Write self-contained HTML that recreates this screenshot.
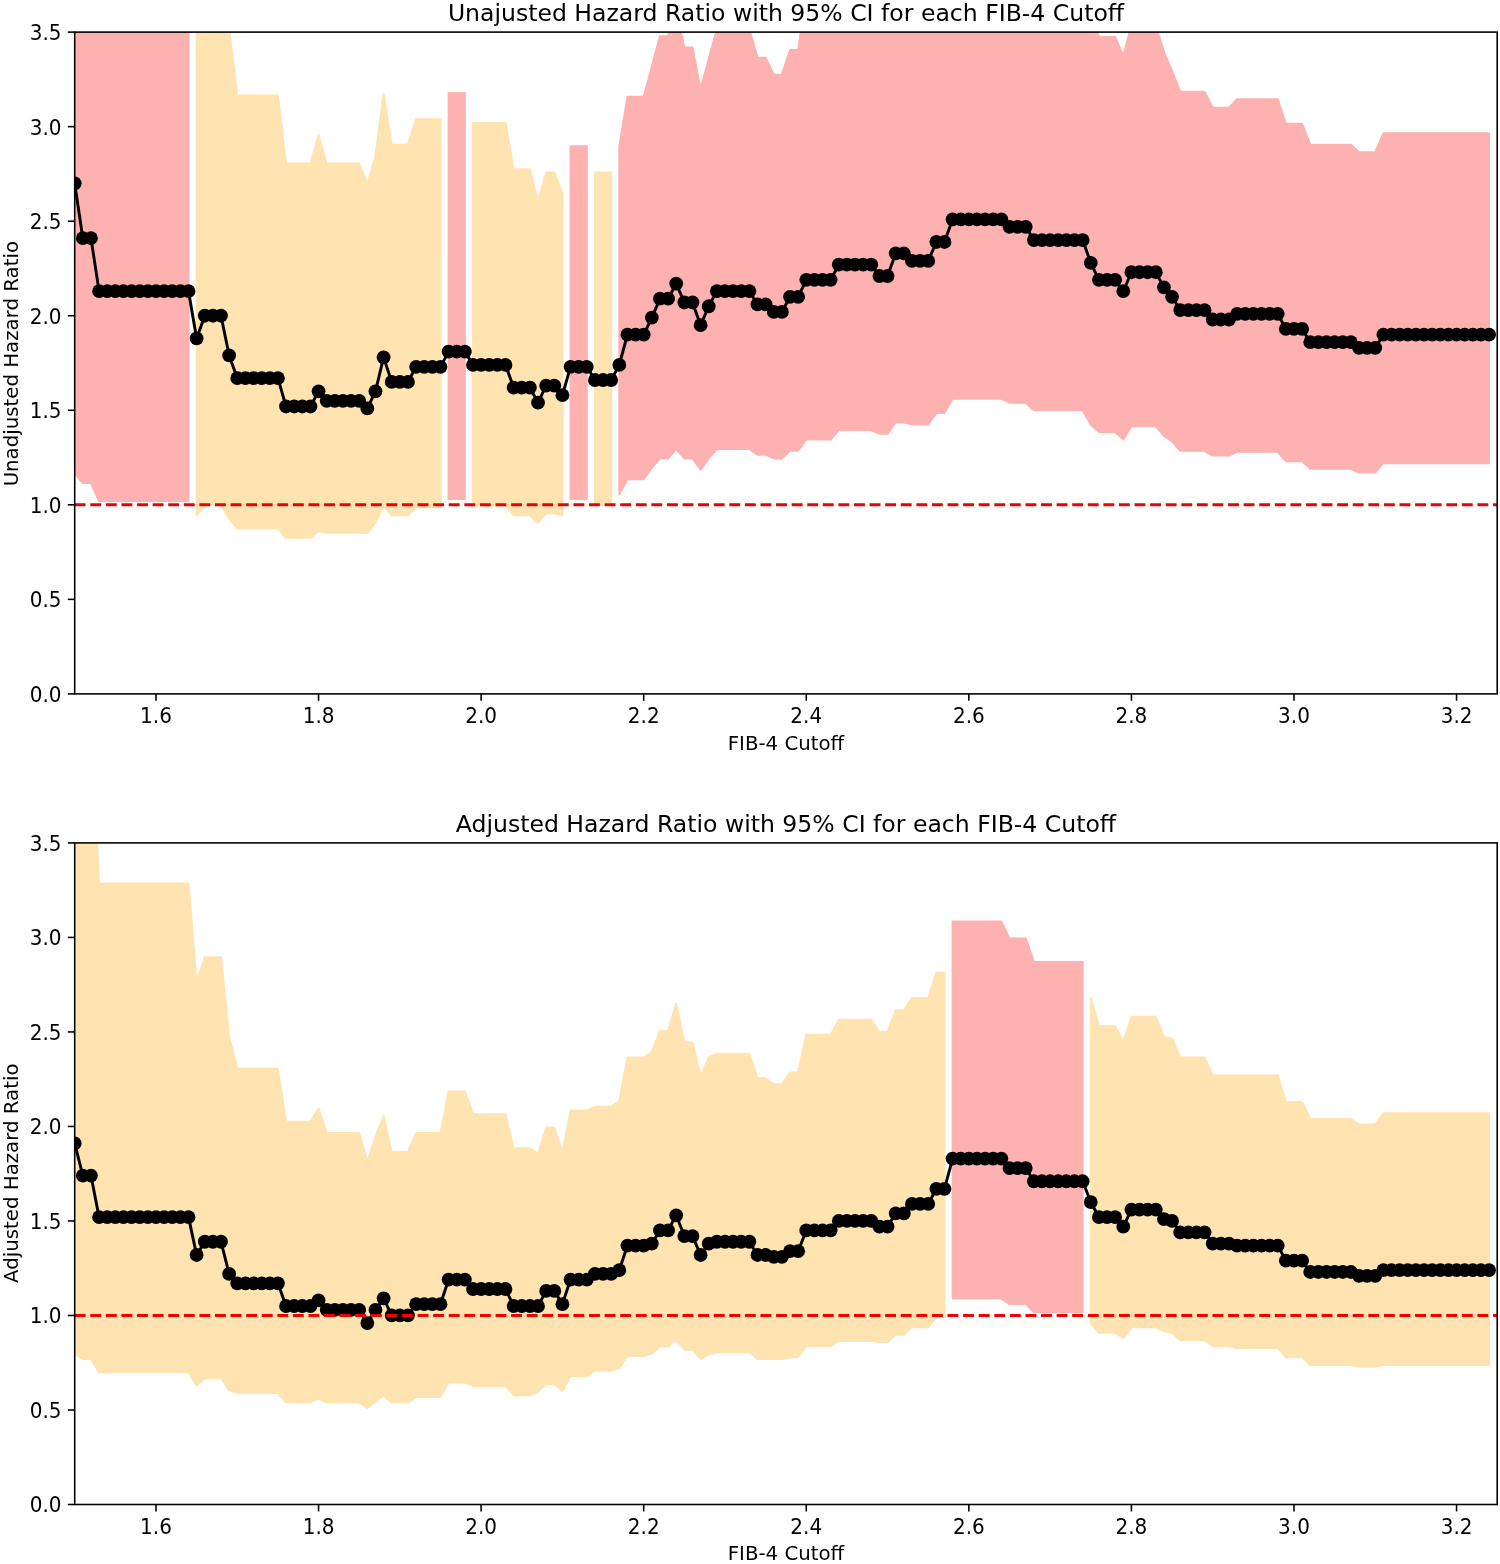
<!DOCTYPE html>
<html><head><meta charset="utf-8"><title>Hazard Ratio by FIB-4 Cutoff</title>
<style>html,body{margin:0;padding:0;background:#fff}svg{display:block}text{font-family:"DejaVu Sans","Liberation Sans",sans-serif;fill:#000}</style></head>
<body><svg width="1500" height="1564" viewBox="0 0 1500 1564">
<rect width="1500" height="1564" fill="#fff"/>
<clipPath id="c0"><rect x="74.7" y="32.1" width="1422.5" height="661.8"/></clipPath>
<g clip-path="url(#c0)">
<polygon fill="#feb1b1"  stroke="#feb1b1" stroke-width="2" stroke-linejoin="round" points="74.7,-155.99 82.83,-61.44 90.96,-61.44 99.09,-23.63 107.21,-23.63 115.34,-23.63 123.47,-23.63 131.6,-23.63 139.73,-23.63 147.86,-23.63 155.99,-23.63 164.11,-23.63 172.24,-23.63 180.37,-23.63 188.5,-23.63 188.5,500.98 180.37,500.98 172.24,500.98 164.11,500.98 155.99,500.98 147.86,500.98 139.73,500.98 131.6,500.98 123.47,500.98 115.34,500.98 107.21,500.98 99.09,500.98 90.96,483.01 82.83,483.01 74.7,473.56"/>
<polygon fill="#feb1b1"  stroke="#feb1b1" stroke-width="2" stroke-linejoin="round" points="448.61,93.04 456.74,93.04 464.87,93.04 464.87,498.9 456.74,498.9 448.61,498.9"/>
<polygon fill="#feb1b1"  stroke="#feb1b1" stroke-width="2" stroke-linejoin="round" points="570.54,146.17 578.67,146.17 586.8,146.17 586.8,498.9 578.67,498.9 570.54,498.9"/>
<polygon fill="#feb1b1"  stroke="#feb1b1" stroke-width="2" stroke-linejoin="round" points="619.31,146.55 627.44,96.63 635.57,96.63 643.7,96.63 651.83,66.76 659.96,36.13 668.09,36.13 676.21,10.41 684.34,47.47 692.47,47.47 700.6,89.83 708.73,58.63 716.86,29.32 724.99,29.32 733.11,29.32 741.24,29.32 749.37,29.32 757.5,57.68 765.63,57.68 773.76,74.7 781.89,74.7 790.01,50.12 798.14,50.12 806.27,-4.72 814.4,-4.72 822.53,-4.72 830.66,-4.72 838.79,-4.72 846.91,-4.72 855.04,-4.72 863.17,-4.72 871.3,-4.72 879.43,-4.72 887.56,-4.72 895.69,-4.72 903.81,-4.72 911.94,-4.72 920.07,-4.72 928.2,-4.72 936.33,-4.72 944.46,-4.72 952.59,-4.72 960.71,-4.72 968.84,-4.72 976.97,-4.72 985.1,-4.72 993.23,-4.72 1001.36,-4.72 1009.49,-4.72 1017.61,-4.72 1025.74,-4.72 1033.87,-4.72 1042,-4.72 1050.13,-4.72 1058.26,-4.72 1066.39,-4.72 1074.51,-4.72 1082.64,-4.72 1090.77,10.41 1098.9,36.88 1107.03,36.88 1115.16,36.88 1123.29,55.79 1131.41,25.54 1139.54,25.54 1147.67,25.54 1155.8,25.54 1163.93,52.01 1172.06,70.92 1180.19,91.72 1188.31,91.72 1196.44,91.72 1204.57,91.72 1212.7,107.79 1220.83,107.79 1228.96,107.79 1237.09,99.28 1245.21,99.28 1253.34,99.28 1261.47,99.28 1269.6,99.28 1277.73,99.28 1285.86,123.86 1293.99,123.86 1302.11,123.86 1310.24,144.66 1318.37,144.66 1326.5,144.66 1334.63,144.66 1342.76,144.66 1350.89,144.66 1359.01,152.22 1367.14,152.22 1375.27,152.22 1383.4,133.32 1391.53,133.32 1399.66,133.32 1407.79,133.32 1415.91,133.32 1424.04,133.32 1432.17,133.32 1440.3,133.32 1448.43,133.32 1456.56,133.32 1464.69,133.32 1472.81,133.32 1480.94,133.32 1489.07,133.32 1489.07,463.16 1480.94,463.16 1472.81,463.16 1464.69,463.16 1456.56,463.16 1448.43,463.16 1440.3,463.16 1432.17,463.16 1424.04,463.16 1415.91,463.16 1407.79,463.16 1399.66,463.16 1391.53,463.16 1383.4,463.16 1375.27,472.62 1367.14,472.62 1359.01,472.62 1350.89,468.83 1342.76,468.83 1334.63,468.83 1326.5,468.83 1318.37,468.83 1310.24,468.83 1302.11,461.27 1293.99,461.27 1285.86,461.27 1277.73,451.82 1269.6,451.82 1261.47,451.82 1253.34,451.82 1245.21,451.82 1237.09,451.82 1228.96,455.6 1220.83,455.6 1212.7,455.6 1204.57,450.87 1196.44,450.87 1188.31,450.87 1180.19,450.87 1172.06,441.42 1163.93,435.74 1155.8,426.29 1147.67,426.29 1139.54,426.29 1131.41,426.29 1123.29,439.53 1115.16,431.96 1107.03,431.96 1098.9,431.96 1090.77,424.4 1082.64,410.22 1074.51,410.22 1066.39,410.22 1058.26,410.22 1050.13,410.22 1042,410.22 1033.87,410.22 1025.74,402.65 1017.61,402.65 1009.49,402.65 1001.36,398.87 993.23,398.87 985.1,398.87 976.97,398.87 968.84,398.87 960.71,398.87 952.59,398.87 944.46,413.05 936.33,413.05 928.2,424.4 920.07,424.4 911.94,424.4 903.81,422.51 895.69,422.51 887.56,433.85 879.43,433.85 871.3,430.07 863.17,430.07 855.04,430.07 846.91,430.07 838.79,430.07 830.66,439.53 822.53,439.53 814.4,439.53 806.27,439.53 798.14,450.87 790.01,450.87 781.89,458.43 773.76,458.43 765.63,454.65 757.5,454.65 749.37,448.98 741.24,448.98 733.11,448.98 724.99,448.98 716.86,448.98 708.73,458.43 700.6,469.78 692.47,458.43 684.34,458.43 676.21,448.98 668.09,458.43 659.96,458.43 651.83,467.89 643.7,479.23 635.57,479.23 627.44,479.23 619.31,494.36"/>
<polygon fill="#ffe3b1"  stroke="#ffe3b1" stroke-width="2" stroke-linejoin="round" points="196.63,-23.63 204.76,-23.63 212.89,-23.63 221.01,-23.63 229.14,29.32 237.27,95.5 245.4,95.5 253.53,95.5 261.66,95.5 269.79,95.5 277.91,95.5 286.04,163.57 294.17,163.57 302.3,163.57 310.43,163.57 318.56,135.21 326.69,163.57 334.81,163.57 342.94,163.57 351.07,163.57 359.2,163.57 367.33,184.37 375.46,156.01 383.59,93.61 391.71,144.66 399.84,144.66 407.97,144.66 416.1,119.13 424.23,119.13 432.36,119.13 440.49,119.13 440.49,507.6 432.36,507.6 424.23,507.6 416.1,507.6 407.97,515.16 399.84,515.16 391.71,515.16 383.59,505.71 375.46,522.72 367.33,533.12 359.2,532.74 351.07,532.74 342.94,532.74 334.81,532.74 326.69,532.74 318.56,531.23 310.43,537.85 302.3,537.85 294.17,537.85 286.04,537.85 277.91,528.4 269.79,528.4 261.66,528.4 253.53,528.4 245.4,528.4 237.27,528.4 229.14,518.94 221.01,504.76 212.89,504.76 204.76,504.76 196.63,515.16"/>
<polygon fill="#ffe3b1"  stroke="#ffe3b1" stroke-width="2" stroke-linejoin="round" points="473,122.92 481.13,122.92 489.26,122.92 497.39,122.92 505.51,122.92 513.64,169.24 521.77,169.24 529.9,169.24 538.03,201.39 546.16,172.46 554.29,172.46 562.41,193.44 562.41,515.16 554.29,513.27 546.16,513.27 538.03,522.72 529.9,515.16 521.77,515.16 513.64,515.16 505.51,505.71 497.39,505.71 489.26,505.71 481.13,505.71 473,505.71"/>
<polygon fill="#ffe3b1"  stroke="#ffe3b1" stroke-width="2" stroke-linejoin="round" points="594.93,172.46 603.06,172.46 611.19,172.46 611.19,504.76 603.06,504.76 594.93,504.76"/>
<line x1="74.7" x2="1497.2" y1="504.81" y2="504.81" stroke="#f00000" stroke-width="2.95" stroke-dasharray="10.88 4.706"/>
<polyline fill="none" stroke="#000" stroke-width="2.95" stroke-linejoin="round" points="74.7,183.37 82.83,238.2 90.96,238.2 99.09,291.15 107.21,291.15 115.34,291.15 123.47,291.15 131.6,291.15 139.73,291.15 147.86,291.15 155.99,291.15 164.11,291.15 172.24,291.15 180.37,291.15 188.5,291.15 196.63,338.42 204.76,315.73 212.89,315.73 221.01,315.73 229.14,355.44 237.27,378.13 245.4,378.13 253.53,378.13 261.66,378.13 269.79,378.13 277.91,378.13 286.04,406.49 294.17,406.49 302.3,406.49 310.43,406.49 318.56,391.36 326.69,400.82 334.81,400.82 342.94,400.82 351.07,400.82 359.2,400.82 367.33,408.38 375.46,391.36 383.59,357.33 391.71,381.91 399.84,381.91 407.97,381.91 416.1,366.78 424.23,366.78 432.36,366.78 440.49,366.78 448.61,351.65 456.74,351.65 464.87,351.65 473,364.89 481.13,364.89 489.26,364.89 497.39,364.89 505.51,364.89 513.64,387.58 521.77,387.58 529.9,387.58 538.03,402.71 546.16,385.69 554.29,385.69 562.41,395.14 570.54,366.78 578.67,366.78 586.8,366.78 594.93,380.02 603.06,380.02 611.19,380.02 619.31,364.89 627.44,334.64 635.57,334.64 643.7,334.64 651.83,317.62 659.96,298.71 668.09,298.71 676.21,283.58 684.34,302.49 692.47,302.49 700.6,325.18 708.73,306.27 716.86,291.15 724.99,291.15 733.11,291.15 741.24,291.15 749.37,291.15 757.5,304.38 765.63,304.38 773.76,311.95 781.89,311.95 790.01,296.82 798.14,296.82 806.27,279.8 814.4,279.8 822.53,279.8 830.66,279.8 838.79,264.68 846.91,264.68 855.04,264.68 863.17,264.68 871.3,264.68 879.43,276.02 887.56,276.02 895.69,253.33 903.81,253.33 911.94,260.89 920.07,260.89 928.2,260.89 936.33,241.99 944.46,241.99 952.59,219.29 960.71,219.29 968.84,219.29 976.97,219.29 985.1,219.29 993.23,219.29 1001.36,219.29 1009.49,226.86 1017.61,226.86 1025.74,226.86 1033.87,240.09 1042,240.09 1050.13,240.09 1058.26,240.09 1066.39,240.09 1074.51,240.09 1082.64,240.09 1090.77,262.78 1098.9,279.8 1107.03,279.8 1115.16,279.8 1123.29,291.15 1131.41,272.24 1139.54,272.24 1147.67,272.24 1155.8,272.24 1163.93,287.37 1172.06,296.82 1180.19,310.06 1188.31,310.06 1196.44,310.06 1204.57,310.06 1212.7,319.51 1220.83,319.51 1228.96,319.51 1237.09,313.84 1245.21,313.84 1253.34,313.84 1261.47,313.84 1269.6,313.84 1277.73,313.84 1285.86,328.96 1293.99,328.96 1302.11,328.96 1310.24,342.2 1318.37,342.2 1326.5,342.2 1334.63,342.2 1342.76,342.2 1350.89,342.2 1359.01,347.87 1367.14,347.87 1375.27,347.87 1383.4,334.64 1391.53,334.64 1399.66,334.64 1407.79,334.64 1415.91,334.64 1424.04,334.64 1432.17,334.64 1440.3,334.64 1448.43,334.64 1456.56,334.64 1464.69,334.64 1472.81,334.64 1480.94,334.64 1489.07,334.64"/>
<circle cx="74.7" cy="183.37" r="6.9"/><circle cx="82.83" cy="238.2" r="6.9"/><circle cx="90.96" cy="238.2" r="6.9"/><circle cx="99.09" cy="291.15" r="6.9"/><circle cx="107.21" cy="291.15" r="6.9"/><circle cx="115.34" cy="291.15" r="6.9"/><circle cx="123.47" cy="291.15" r="6.9"/><circle cx="131.6" cy="291.15" r="6.9"/><circle cx="139.73" cy="291.15" r="6.9"/><circle cx="147.86" cy="291.15" r="6.9"/><circle cx="155.99" cy="291.15" r="6.9"/><circle cx="164.11" cy="291.15" r="6.9"/><circle cx="172.24" cy="291.15" r="6.9"/><circle cx="180.37" cy="291.15" r="6.9"/><circle cx="188.5" cy="291.15" r="6.9"/><circle cx="196.63" cy="338.42" r="6.9"/><circle cx="204.76" cy="315.73" r="6.9"/><circle cx="212.89" cy="315.73" r="6.9"/><circle cx="221.01" cy="315.73" r="6.9"/><circle cx="229.14" cy="355.44" r="6.9"/><circle cx="237.27" cy="378.13" r="6.9"/><circle cx="245.4" cy="378.13" r="6.9"/><circle cx="253.53" cy="378.13" r="6.9"/><circle cx="261.66" cy="378.13" r="6.9"/><circle cx="269.79" cy="378.13" r="6.9"/><circle cx="277.91" cy="378.13" r="6.9"/><circle cx="286.04" cy="406.49" r="6.9"/><circle cx="294.17" cy="406.49" r="6.9"/><circle cx="302.3" cy="406.49" r="6.9"/><circle cx="310.43" cy="406.49" r="6.9"/><circle cx="318.56" cy="391.36" r="6.9"/><circle cx="326.69" cy="400.82" r="6.9"/><circle cx="334.81" cy="400.82" r="6.9"/><circle cx="342.94" cy="400.82" r="6.9"/><circle cx="351.07" cy="400.82" r="6.9"/><circle cx="359.2" cy="400.82" r="6.9"/><circle cx="367.33" cy="408.38" r="6.9"/><circle cx="375.46" cy="391.36" r="6.9"/><circle cx="383.59" cy="357.33" r="6.9"/><circle cx="391.71" cy="381.91" r="6.9"/><circle cx="399.84" cy="381.91" r="6.9"/><circle cx="407.97" cy="381.91" r="6.9"/><circle cx="416.1" cy="366.78" r="6.9"/><circle cx="424.23" cy="366.78" r="6.9"/><circle cx="432.36" cy="366.78" r="6.9"/><circle cx="440.49" cy="366.78" r="6.9"/><circle cx="448.61" cy="351.65" r="6.9"/><circle cx="456.74" cy="351.65" r="6.9"/><circle cx="464.87" cy="351.65" r="6.9"/><circle cx="473" cy="364.89" r="6.9"/><circle cx="481.13" cy="364.89" r="6.9"/><circle cx="489.26" cy="364.89" r="6.9"/><circle cx="497.39" cy="364.89" r="6.9"/><circle cx="505.51" cy="364.89" r="6.9"/><circle cx="513.64" cy="387.58" r="6.9"/><circle cx="521.77" cy="387.58" r="6.9"/><circle cx="529.9" cy="387.58" r="6.9"/><circle cx="538.03" cy="402.71" r="6.9"/><circle cx="546.16" cy="385.69" r="6.9"/><circle cx="554.29" cy="385.69" r="6.9"/><circle cx="562.41" cy="395.14" r="6.9"/><circle cx="570.54" cy="366.78" r="6.9"/><circle cx="578.67" cy="366.78" r="6.9"/><circle cx="586.8" cy="366.78" r="6.9"/><circle cx="594.93" cy="380.02" r="6.9"/><circle cx="603.06" cy="380.02" r="6.9"/><circle cx="611.19" cy="380.02" r="6.9"/><circle cx="619.31" cy="364.89" r="6.9"/><circle cx="627.44" cy="334.64" r="6.9"/><circle cx="635.57" cy="334.64" r="6.9"/><circle cx="643.7" cy="334.64" r="6.9"/><circle cx="651.83" cy="317.62" r="6.9"/><circle cx="659.96" cy="298.71" r="6.9"/><circle cx="668.09" cy="298.71" r="6.9"/><circle cx="676.21" cy="283.58" r="6.9"/><circle cx="684.34" cy="302.49" r="6.9"/><circle cx="692.47" cy="302.49" r="6.9"/><circle cx="700.6" cy="325.18" r="6.9"/><circle cx="708.73" cy="306.27" r="6.9"/><circle cx="716.86" cy="291.15" r="6.9"/><circle cx="724.99" cy="291.15" r="6.9"/><circle cx="733.11" cy="291.15" r="6.9"/><circle cx="741.24" cy="291.15" r="6.9"/><circle cx="749.37" cy="291.15" r="6.9"/><circle cx="757.5" cy="304.38" r="6.9"/><circle cx="765.63" cy="304.38" r="6.9"/><circle cx="773.76" cy="311.95" r="6.9"/><circle cx="781.89" cy="311.95" r="6.9"/><circle cx="790.01" cy="296.82" r="6.9"/><circle cx="798.14" cy="296.82" r="6.9"/><circle cx="806.27" cy="279.8" r="6.9"/><circle cx="814.4" cy="279.8" r="6.9"/><circle cx="822.53" cy="279.8" r="6.9"/><circle cx="830.66" cy="279.8" r="6.9"/><circle cx="838.79" cy="264.68" r="6.9"/><circle cx="846.91" cy="264.68" r="6.9"/><circle cx="855.04" cy="264.68" r="6.9"/><circle cx="863.17" cy="264.68" r="6.9"/><circle cx="871.3" cy="264.68" r="6.9"/><circle cx="879.43" cy="276.02" r="6.9"/><circle cx="887.56" cy="276.02" r="6.9"/><circle cx="895.69" cy="253.33" r="6.9"/><circle cx="903.81" cy="253.33" r="6.9"/><circle cx="911.94" cy="260.89" r="6.9"/><circle cx="920.07" cy="260.89" r="6.9"/><circle cx="928.2" cy="260.89" r="6.9"/><circle cx="936.33" cy="241.99" r="6.9"/><circle cx="944.46" cy="241.99" r="6.9"/><circle cx="952.59" cy="219.29" r="6.9"/><circle cx="960.71" cy="219.29" r="6.9"/><circle cx="968.84" cy="219.29" r="6.9"/><circle cx="976.97" cy="219.29" r="6.9"/><circle cx="985.1" cy="219.29" r="6.9"/><circle cx="993.23" cy="219.29" r="6.9"/><circle cx="1001.36" cy="219.29" r="6.9"/><circle cx="1009.49" cy="226.86" r="6.9"/><circle cx="1017.61" cy="226.86" r="6.9"/><circle cx="1025.74" cy="226.86" r="6.9"/><circle cx="1033.87" cy="240.09" r="6.9"/><circle cx="1042" cy="240.09" r="6.9"/><circle cx="1050.13" cy="240.09" r="6.9"/><circle cx="1058.26" cy="240.09" r="6.9"/><circle cx="1066.39" cy="240.09" r="6.9"/><circle cx="1074.51" cy="240.09" r="6.9"/><circle cx="1082.64" cy="240.09" r="6.9"/><circle cx="1090.77" cy="262.78" r="6.9"/><circle cx="1098.9" cy="279.8" r="6.9"/><circle cx="1107.03" cy="279.8" r="6.9"/><circle cx="1115.16" cy="279.8" r="6.9"/><circle cx="1123.29" cy="291.15" r="6.9"/><circle cx="1131.41" cy="272.24" r="6.9"/><circle cx="1139.54" cy="272.24" r="6.9"/><circle cx="1147.67" cy="272.24" r="6.9"/><circle cx="1155.8" cy="272.24" r="6.9"/><circle cx="1163.93" cy="287.37" r="6.9"/><circle cx="1172.06" cy="296.82" r="6.9"/><circle cx="1180.19" cy="310.06" r="6.9"/><circle cx="1188.31" cy="310.06" r="6.9"/><circle cx="1196.44" cy="310.06" r="6.9"/><circle cx="1204.57" cy="310.06" r="6.9"/><circle cx="1212.7" cy="319.51" r="6.9"/><circle cx="1220.83" cy="319.51" r="6.9"/><circle cx="1228.96" cy="319.51" r="6.9"/><circle cx="1237.09" cy="313.84" r="6.9"/><circle cx="1245.21" cy="313.84" r="6.9"/><circle cx="1253.34" cy="313.84" r="6.9"/><circle cx="1261.47" cy="313.84" r="6.9"/><circle cx="1269.6" cy="313.84" r="6.9"/><circle cx="1277.73" cy="313.84" r="6.9"/><circle cx="1285.86" cy="328.96" r="6.9"/><circle cx="1293.99" cy="328.96" r="6.9"/><circle cx="1302.11" cy="328.96" r="6.9"/><circle cx="1310.24" cy="342.2" r="6.9"/><circle cx="1318.37" cy="342.2" r="6.9"/><circle cx="1326.5" cy="342.2" r="6.9"/><circle cx="1334.63" cy="342.2" r="6.9"/><circle cx="1342.76" cy="342.2" r="6.9"/><circle cx="1350.89" cy="342.2" r="6.9"/><circle cx="1359.01" cy="347.87" r="6.9"/><circle cx="1367.14" cy="347.87" r="6.9"/><circle cx="1375.27" cy="347.87" r="6.9"/><circle cx="1383.4" cy="334.64" r="6.9"/><circle cx="1391.53" cy="334.64" r="6.9"/><circle cx="1399.66" cy="334.64" r="6.9"/><circle cx="1407.79" cy="334.64" r="6.9"/><circle cx="1415.91" cy="334.64" r="6.9"/><circle cx="1424.04" cy="334.64" r="6.9"/><circle cx="1432.17" cy="334.64" r="6.9"/><circle cx="1440.3" cy="334.64" r="6.9"/><circle cx="1448.43" cy="334.64" r="6.9"/><circle cx="1456.56" cy="334.64" r="6.9"/><circle cx="1464.69" cy="334.64" r="6.9"/><circle cx="1472.81" cy="334.64" r="6.9"/><circle cx="1480.94" cy="334.64" r="6.9"/><circle cx="1489.07" cy="334.64" r="6.9"/>
</g>
<rect x="74.7" y="32.1" width="1422.5" height="661.8" fill="none" stroke="#000" stroke-width="1.575"/>
<line x1="67.8" x2="74.7" y1="693.9" y2="693.9" stroke="#000" stroke-width="1.575"/>
<text transform="translate(61.5,701.8) scale(1,1.015)" font-size="20.0" text-anchor="end">0.0</text>
<line x1="67.8" x2="74.7" y1="599.36" y2="599.36" stroke="#000" stroke-width="1.575"/>
<text transform="translate(61.5,607.26) scale(1,1.015)" font-size="20.0" text-anchor="end">0.5</text>
<line x1="67.8" x2="74.7" y1="504.81" y2="504.81" stroke="#000" stroke-width="1.575"/>
<text transform="translate(61.5,512.71) scale(1,1.015)" font-size="20.0" text-anchor="end">1.0</text>
<line x1="67.8" x2="74.7" y1="410.27" y2="410.27" stroke="#000" stroke-width="1.575"/>
<text transform="translate(61.5,418.17) scale(1,1.015)" font-size="20.0" text-anchor="end">1.5</text>
<line x1="67.8" x2="74.7" y1="315.73" y2="315.73" stroke="#000" stroke-width="1.575"/>
<text transform="translate(61.5,323.63) scale(1,1.015)" font-size="20.0" text-anchor="end">2.0</text>
<line x1="67.8" x2="74.7" y1="221.19" y2="221.19" stroke="#000" stroke-width="1.575"/>
<text transform="translate(61.5,229.09) scale(1,1.015)" font-size="20.0" text-anchor="end">2.5</text>
<line x1="67.8" x2="74.7" y1="126.64" y2="126.64" stroke="#000" stroke-width="1.575"/>
<text transform="translate(61.5,134.54) scale(1,1.015)" font-size="20.0" text-anchor="end">3.0</text>
<line x1="67.8" x2="74.7" y1="32.1" y2="32.1" stroke="#000" stroke-width="1.575"/>
<text transform="translate(61.5,40) scale(1,1.015)" font-size="20.0" text-anchor="end">3.5</text>
<line x1="155.99" x2="155.99" y1="693.9" y2="700.8" stroke="#000" stroke-width="1.575"/>
<text transform="translate(155.99,723) scale(1,1.015)" font-size="20.0" text-anchor="middle">1.6</text>
<line x1="318.56" x2="318.56" y1="693.9" y2="700.8" stroke="#000" stroke-width="1.575"/>
<text transform="translate(318.56,723) scale(1,1.015)" font-size="20.0" text-anchor="middle">1.8</text>
<line x1="481.13" x2="481.13" y1="693.9" y2="700.8" stroke="#000" stroke-width="1.575"/>
<text transform="translate(481.13,723) scale(1,1.015)" font-size="20.0" text-anchor="middle">2.0</text>
<line x1="643.7" x2="643.7" y1="693.9" y2="700.8" stroke="#000" stroke-width="1.575"/>
<text transform="translate(643.7,723) scale(1,1.015)" font-size="20.0" text-anchor="middle">2.2</text>
<line x1="806.27" x2="806.27" y1="693.9" y2="700.8" stroke="#000" stroke-width="1.575"/>
<text transform="translate(806.27,723) scale(1,1.015)" font-size="20.0" text-anchor="middle">2.4</text>
<line x1="968.84" x2="968.84" y1="693.9" y2="700.8" stroke="#000" stroke-width="1.575"/>
<text transform="translate(968.84,723) scale(1,1.015)" font-size="20.0" text-anchor="middle">2.6</text>
<line x1="1131.41" x2="1131.41" y1="693.9" y2="700.8" stroke="#000" stroke-width="1.575"/>
<text transform="translate(1131.41,723) scale(1,1.015)" font-size="20.0" text-anchor="middle">2.8</text>
<line x1="1293.99" x2="1293.99" y1="693.9" y2="700.8" stroke="#000" stroke-width="1.575"/>
<text transform="translate(1293.99,723) scale(1,1.015)" font-size="20.0" text-anchor="middle">3.0</text>
<line x1="1456.56" x2="1456.56" y1="693.9" y2="700.8" stroke="#000" stroke-width="1.575"/>
<text transform="translate(1456.56,723) scale(1,1.015)" font-size="20.0" text-anchor="middle">3.2</text>
<text x="785.95" y="20.7" font-size="23.55" text-anchor="middle">Unajusted Hazard Ratio with 95% CI for each FIB-4 Cutoff</text>
<text transform="translate(785.95,749.6) scale(1,1.0)" font-size="19.75" text-anchor="middle">FIB-4 Cutoff</text>
<text transform="translate(17.9,363.7) rotate(-90) scale(1,1.0)" font-size="19.75" text-anchor="middle">Unadjusted Hazard Ratio</text>
<clipPath id="c1"><rect x="74.7" y="842.9" width="1422.5" height="661.6"/></clipPath>
<g clip-path="url(#c1)">
<polygon fill="#feb1b1"  stroke="#feb1b1" stroke-width="2" stroke-linejoin="round" points="952.59,921.4 960.71,921.4 968.84,921.4 976.97,921.4 985.1,921.4 993.23,921.4 1001.36,921.4 1009.49,938.41 1017.61,938.41 1025.74,938.41 1033.87,962.04 1042,962.04 1050.13,962.04 1058.26,962.04 1066.39,962.04 1074.51,962.04 1082.64,962.04 1082.64,1312.11 1074.51,1312.11 1066.39,1312.11 1058.26,1312.11 1050.13,1312.11 1042,1312.11 1033.87,1312.11 1025.74,1304.07 1017.61,1304.07 1009.49,1304.07 1001.36,1298.59 993.23,1298.59 985.1,1298.59 976.97,1298.59 968.84,1298.59 960.71,1298.59 952.59,1298.59"/>
<polygon fill="#ffe3b1"  stroke="#ffe3b1" stroke-width="2" stroke-linejoin="round" points="74.7,635.97 82.83,722.92 90.96,722.92 99.09,883.6 107.21,883.6 115.34,883.6 123.47,883.6 131.6,883.6 139.73,883.6 147.86,883.6 155.99,883.6 164.11,883.6 172.24,883.6 180.37,883.6 188.5,883.6 196.63,981.51 204.76,957.32 212.89,957.32 221.01,957.32 229.14,1036.71 237.27,1068.84 245.4,1068.84 253.53,1068.84 261.66,1068.84 269.79,1068.84 277.91,1068.84 286.04,1121.77 294.17,1121.77 302.3,1121.77 310.43,1121.77 318.56,1108.54 326.69,1133.11 334.81,1133.11 342.94,1133.11 351.07,1133.11 359.2,1133.11 367.33,1161.75 375.46,1136.89 383.59,1116.1 391.71,1152.02 399.84,1152.02 407.97,1152.02 416.1,1133.11 424.23,1133.11 432.36,1133.11 440.49,1133.11 448.61,1091.53 456.74,1091.53 464.87,1091.53 473,1114.21 481.13,1114.21 489.26,1114.21 497.39,1114.21 505.51,1114.21 513.64,1148.24 521.77,1148.24 529.9,1148.24 538.03,1153.91 546.16,1127.44 554.29,1127.44 562.41,1152.77 570.54,1110.43 578.67,1110.43 586.8,1110.43 594.93,1106.65 603.06,1106.65 611.19,1106.65 619.31,1100.98 627.44,1057.5 635.57,1057.5 643.7,1057.5 651.83,1051.83 659.96,1031.04 668.09,1031.04 676.21,1003.63 684.34,1042.38 692.47,1042.38 700.6,1076.41 708.73,1057.5 716.86,1053.72 724.99,1053.72 733.11,1053.72 741.24,1053.72 749.37,1053.72 757.5,1078.3 765.63,1078.3 773.76,1083.97 781.89,1083.97 790.01,1072.62 798.14,1072.62 806.27,1034.82 814.4,1034.82 822.53,1034.82 830.66,1034.82 838.79,1019.7 846.91,1019.7 855.04,1019.7 863.17,1019.7 871.3,1019.7 879.43,1031.98 887.56,1031.98 895.69,1010.25 903.81,1010.25 911.94,997.96 920.07,997.96 928.2,997.96 936.33,972.44 944.46,972.44 944.46,1317.12 936.33,1317.12 928.2,1327.14 920.07,1327.14 911.94,1327.14 903.81,1334.7 895.69,1334.7 887.56,1342.07 879.43,1342.07 871.3,1340.94 863.17,1340.94 855.04,1340.94 846.91,1340.94 838.79,1340.94 830.66,1346.04 822.53,1346.04 814.4,1346.04 806.27,1346.04 798.14,1357.19 790.01,1357.19 781.89,1359.08 773.76,1359.08 765.63,1359.08 757.5,1359.08 749.37,1352.28 741.24,1352.28 733.11,1352.28 724.99,1352.28 716.86,1352.28 708.73,1354.17 700.6,1359.08 692.47,1349.63 684.34,1349.63 676.21,1339.8 668.09,1346.61 659.96,1346.61 651.83,1353.6 643.7,1356.06 635.57,1356.06 627.44,1356.06 619.31,1368.34 611.19,1370.42 603.06,1370.42 594.93,1370.42 586.8,1376.09 578.67,1376.09 570.54,1376.09 562.41,1391.03 554.29,1384.03 546.16,1384.03 538.03,1391.6 529.9,1395.38 521.77,1395.38 513.64,1395.38 505.51,1385.92 497.39,1385.92 489.26,1385.92 481.13,1385.92 473,1385.92 464.87,1382.52 456.74,1382.52 448.61,1382.52 440.49,1397.08 432.36,1397.08 424.23,1397.08 416.1,1397.08 407.97,1402.37 399.84,1402.37 391.71,1402.37 383.59,1395.75 375.46,1401.42 367.33,1407.85 359.2,1402.37 351.07,1402.37 342.94,1402.37 334.81,1402.37 326.69,1402.37 318.56,1398.59 310.43,1402.37 302.3,1402.37 294.17,1402.37 286.04,1402.37 277.91,1392.92 269.79,1392.92 261.66,1392.92 253.53,1392.92 245.4,1392.92 237.27,1392.92 229.14,1390.08 221.01,1378.17 212.89,1378.17 204.76,1378.17 196.63,1385.36 188.5,1372.13 180.37,1372.13 172.24,1372.13 164.11,1372.13 155.99,1372.13 147.86,1372.13 139.73,1372.13 131.6,1372.13 123.47,1372.13 115.34,1372.13 107.21,1372.13 99.09,1372.13 90.96,1358.89 82.83,1358.89 74.7,1354.17"/>
<polygon fill="#ffe3b1"  stroke="#ffe3b1" stroke-width="2" stroke-linejoin="round" points="1090.77,997.96 1098.9,1026.31 1107.03,1026.31 1115.16,1026.31 1123.29,1041.91 1131.41,1016.86 1139.54,1016.86 1147.67,1016.86 1155.8,1016.86 1163.93,1036.71 1172.06,1038.6 1180.19,1057.5 1188.31,1057.5 1196.44,1057.5 1204.57,1057.5 1212.7,1075.46 1220.83,1075.46 1228.96,1075.46 1237.09,1075.46 1245.21,1075.46 1253.34,1075.46 1261.47,1075.46 1269.6,1075.46 1277.73,1075.46 1285.86,1101.92 1293.99,1101.92 1302.11,1101.92 1310.24,1118.94 1318.37,1118.94 1326.5,1118.94 1334.63,1118.94 1342.76,1118.94 1350.89,1118.94 1359.01,1124.61 1367.14,1124.61 1375.27,1124.61 1383.4,1113.27 1391.53,1113.27 1399.66,1113.27 1407.79,1113.27 1415.91,1113.27 1424.04,1113.27 1432.17,1113.27 1440.3,1113.27 1448.43,1113.27 1456.56,1113.27 1464.69,1113.27 1472.81,1113.27 1480.94,1113.27 1489.07,1113.27 1489.07,1364.94 1480.94,1364.94 1472.81,1364.94 1464.69,1364.94 1456.56,1364.94 1448.43,1364.94 1440.3,1364.94 1432.17,1364.94 1424.04,1364.94 1415.91,1364.94 1407.79,1364.94 1399.66,1364.94 1391.53,1364.94 1383.4,1364.94 1375.27,1366.64 1367.14,1366.64 1359.01,1366.64 1350.89,1364.94 1342.76,1364.94 1334.63,1364.94 1326.5,1364.94 1318.37,1364.94 1310.24,1364.94 1302.11,1357.19 1293.99,1357.19 1285.86,1357.19 1277.73,1347.93 1269.6,1347.93 1261.47,1347.93 1253.34,1347.93 1245.21,1347.93 1237.09,1347.93 1228.96,1346.04 1220.83,1346.04 1212.7,1346.04 1204.57,1340.37 1196.44,1340.37 1188.31,1340.37 1180.19,1340.37 1172.06,1332.81 1163.93,1331.11 1155.8,1327.33 1147.67,1327.33 1139.54,1327.33 1131.41,1327.33 1123.29,1338.29 1115.16,1332.81 1107.03,1332.81 1098.9,1332.81 1090.77,1323.36"/>
<polyline fill="none" stroke="#000" stroke-width="2.95" stroke-linejoin="round" points="74.7,1143.46 82.83,1175.59 90.96,1175.59 99.09,1217.18 107.21,1217.18 115.34,1217.18 123.47,1217.18 131.6,1217.18 139.73,1217.18 147.86,1217.18 155.99,1217.18 164.11,1217.18 172.24,1217.18 180.37,1217.18 188.5,1217.18 196.63,1254.98 204.76,1241.75 212.89,1241.75 221.01,1241.75 229.14,1273.89 237.27,1283.34 245.4,1283.34 253.53,1283.34 261.66,1283.34 269.79,1283.34 277.91,1283.34 286.04,1306.02 294.17,1306.02 302.3,1306.02 310.43,1306.02 318.56,1300.35 326.69,1309.8 334.81,1309.8 342.94,1309.8 351.07,1309.8 359.2,1309.8 367.33,1323.03 375.46,1309.8 383.59,1298.46 391.71,1315.47 399.84,1315.47 407.97,1315.47 416.1,1304.13 424.23,1304.13 432.36,1304.13 440.49,1304.13 448.61,1279.56 456.74,1279.56 464.87,1279.56 473,1289.01 481.13,1289.01 489.26,1289.01 497.39,1289.01 505.51,1289.01 513.64,1306.02 521.77,1306.02 529.9,1306.02 538.03,1306.02 546.16,1290.9 554.29,1290.9 562.41,1304.13 570.54,1279.56 578.67,1279.56 586.8,1279.56 594.93,1273.89 603.06,1273.89 611.19,1273.89 619.31,1270.1 627.44,1245.53 635.57,1245.53 643.7,1245.53 651.83,1243.64 659.96,1230.41 668.09,1230.41 676.21,1215.29 684.34,1236.08 692.47,1236.08 700.6,1254.98 708.73,1243.64 716.86,1241.75 724.99,1241.75 733.11,1241.75 741.24,1241.75 749.37,1241.75 757.5,1254.98 765.63,1254.98 773.76,1256.87 781.89,1256.87 790.01,1251.2 798.14,1251.2 806.27,1230.41 814.4,1230.41 822.53,1230.41 830.66,1230.41 838.79,1220.96 846.91,1220.96 855.04,1220.96 863.17,1220.96 871.3,1220.96 879.43,1226.63 887.56,1226.63 895.69,1213.4 903.81,1213.4 911.94,1203.94 920.07,1203.94 928.2,1203.94 936.33,1188.82 944.46,1188.82 952.59,1158.58 960.71,1158.58 968.84,1158.58 976.97,1158.58 985.1,1158.58 993.23,1158.58 1001.36,1158.58 1009.49,1168.03 1017.61,1168.03 1025.74,1168.03 1033.87,1181.26 1042,1181.26 1050.13,1181.26 1058.26,1181.26 1066.39,1181.26 1074.51,1181.26 1082.64,1181.26 1090.77,1202.05 1098.9,1217.18 1107.03,1217.18 1115.16,1217.18 1123.29,1226.63 1131.41,1209.62 1139.54,1209.62 1147.67,1209.62 1155.8,1209.62 1163.93,1219.07 1172.06,1220.96 1180.19,1232.3 1188.31,1232.3 1196.44,1232.3 1204.57,1232.3 1212.7,1243.64 1220.83,1243.64 1228.96,1243.64 1237.09,1245.53 1245.21,1245.53 1253.34,1245.53 1261.47,1245.53 1269.6,1245.53 1277.73,1245.53 1285.86,1260.65 1293.99,1260.65 1302.11,1260.65 1310.24,1271.99 1318.37,1271.99 1326.5,1271.99 1334.63,1271.99 1342.76,1271.99 1350.89,1271.99 1359.01,1275.78 1367.14,1275.78 1375.27,1275.78 1383.4,1270.1 1391.53,1270.1 1399.66,1270.1 1407.79,1270.1 1415.91,1270.1 1424.04,1270.1 1432.17,1270.1 1440.3,1270.1 1448.43,1270.1 1456.56,1270.1 1464.69,1270.1 1472.81,1270.1 1480.94,1270.1 1489.07,1270.1"/>
<circle cx="74.7" cy="1143.46" r="6.9"/><circle cx="82.83" cy="1175.59" r="6.9"/><circle cx="90.96" cy="1175.59" r="6.9"/><circle cx="99.09" cy="1217.18" r="6.9"/><circle cx="107.21" cy="1217.18" r="6.9"/><circle cx="115.34" cy="1217.18" r="6.9"/><circle cx="123.47" cy="1217.18" r="6.9"/><circle cx="131.6" cy="1217.18" r="6.9"/><circle cx="139.73" cy="1217.18" r="6.9"/><circle cx="147.86" cy="1217.18" r="6.9"/><circle cx="155.99" cy="1217.18" r="6.9"/><circle cx="164.11" cy="1217.18" r="6.9"/><circle cx="172.24" cy="1217.18" r="6.9"/><circle cx="180.37" cy="1217.18" r="6.9"/><circle cx="188.5" cy="1217.18" r="6.9"/><circle cx="196.63" cy="1254.98" r="6.9"/><circle cx="204.76" cy="1241.75" r="6.9"/><circle cx="212.89" cy="1241.75" r="6.9"/><circle cx="221.01" cy="1241.75" r="6.9"/><circle cx="229.14" cy="1273.89" r="6.9"/><circle cx="237.27" cy="1283.34" r="6.9"/><circle cx="245.4" cy="1283.34" r="6.9"/><circle cx="253.53" cy="1283.34" r="6.9"/><circle cx="261.66" cy="1283.34" r="6.9"/><circle cx="269.79" cy="1283.34" r="6.9"/><circle cx="277.91" cy="1283.34" r="6.9"/><circle cx="286.04" cy="1306.02" r="6.9"/><circle cx="294.17" cy="1306.02" r="6.9"/><circle cx="302.3" cy="1306.02" r="6.9"/><circle cx="310.43" cy="1306.02" r="6.9"/><circle cx="318.56" cy="1300.35" r="6.9"/><circle cx="326.69" cy="1309.8" r="6.9"/><circle cx="334.81" cy="1309.8" r="6.9"/><circle cx="342.94" cy="1309.8" r="6.9"/><circle cx="351.07" cy="1309.8" r="6.9"/><circle cx="359.2" cy="1309.8" r="6.9"/><circle cx="367.33" cy="1323.03" r="6.9"/><circle cx="375.46" cy="1309.8" r="6.9"/><circle cx="383.59" cy="1298.46" r="6.9"/><circle cx="391.71" cy="1315.47" r="6.9"/><circle cx="399.84" cy="1315.47" r="6.9"/><circle cx="407.97" cy="1315.47" r="6.9"/><circle cx="416.1" cy="1304.13" r="6.9"/><circle cx="424.23" cy="1304.13" r="6.9"/><circle cx="432.36" cy="1304.13" r="6.9"/><circle cx="440.49" cy="1304.13" r="6.9"/><circle cx="448.61" cy="1279.56" r="6.9"/><circle cx="456.74" cy="1279.56" r="6.9"/><circle cx="464.87" cy="1279.56" r="6.9"/><circle cx="473" cy="1289.01" r="6.9"/><circle cx="481.13" cy="1289.01" r="6.9"/><circle cx="489.26" cy="1289.01" r="6.9"/><circle cx="497.39" cy="1289.01" r="6.9"/><circle cx="505.51" cy="1289.01" r="6.9"/><circle cx="513.64" cy="1306.02" r="6.9"/><circle cx="521.77" cy="1306.02" r="6.9"/><circle cx="529.9" cy="1306.02" r="6.9"/><circle cx="538.03" cy="1306.02" r="6.9"/><circle cx="546.16" cy="1290.9" r="6.9"/><circle cx="554.29" cy="1290.9" r="6.9"/><circle cx="562.41" cy="1304.13" r="6.9"/><circle cx="570.54" cy="1279.56" r="6.9"/><circle cx="578.67" cy="1279.56" r="6.9"/><circle cx="586.8" cy="1279.56" r="6.9"/><circle cx="594.93" cy="1273.89" r="6.9"/><circle cx="603.06" cy="1273.89" r="6.9"/><circle cx="611.19" cy="1273.89" r="6.9"/><circle cx="619.31" cy="1270.1" r="6.9"/><circle cx="627.44" cy="1245.53" r="6.9"/><circle cx="635.57" cy="1245.53" r="6.9"/><circle cx="643.7" cy="1245.53" r="6.9"/><circle cx="651.83" cy="1243.64" r="6.9"/><circle cx="659.96" cy="1230.41" r="6.9"/><circle cx="668.09" cy="1230.41" r="6.9"/><circle cx="676.21" cy="1215.29" r="6.9"/><circle cx="684.34" cy="1236.08" r="6.9"/><circle cx="692.47" cy="1236.08" r="6.9"/><circle cx="700.6" cy="1254.98" r="6.9"/><circle cx="708.73" cy="1243.64" r="6.9"/><circle cx="716.86" cy="1241.75" r="6.9"/><circle cx="724.99" cy="1241.75" r="6.9"/><circle cx="733.11" cy="1241.75" r="6.9"/><circle cx="741.24" cy="1241.75" r="6.9"/><circle cx="749.37" cy="1241.75" r="6.9"/><circle cx="757.5" cy="1254.98" r="6.9"/><circle cx="765.63" cy="1254.98" r="6.9"/><circle cx="773.76" cy="1256.87" r="6.9"/><circle cx="781.89" cy="1256.87" r="6.9"/><circle cx="790.01" cy="1251.2" r="6.9"/><circle cx="798.14" cy="1251.2" r="6.9"/><circle cx="806.27" cy="1230.41" r="6.9"/><circle cx="814.4" cy="1230.41" r="6.9"/><circle cx="822.53" cy="1230.41" r="6.9"/><circle cx="830.66" cy="1230.41" r="6.9"/><circle cx="838.79" cy="1220.96" r="6.9"/><circle cx="846.91" cy="1220.96" r="6.9"/><circle cx="855.04" cy="1220.96" r="6.9"/><circle cx="863.17" cy="1220.96" r="6.9"/><circle cx="871.3" cy="1220.96" r="6.9"/><circle cx="879.43" cy="1226.63" r="6.9"/><circle cx="887.56" cy="1226.63" r="6.9"/><circle cx="895.69" cy="1213.4" r="6.9"/><circle cx="903.81" cy="1213.4" r="6.9"/><circle cx="911.94" cy="1203.94" r="6.9"/><circle cx="920.07" cy="1203.94" r="6.9"/><circle cx="928.2" cy="1203.94" r="6.9"/><circle cx="936.33" cy="1188.82" r="6.9"/><circle cx="944.46" cy="1188.82" r="6.9"/><circle cx="952.59" cy="1158.58" r="6.9"/><circle cx="960.71" cy="1158.58" r="6.9"/><circle cx="968.84" cy="1158.58" r="6.9"/><circle cx="976.97" cy="1158.58" r="6.9"/><circle cx="985.1" cy="1158.58" r="6.9"/><circle cx="993.23" cy="1158.58" r="6.9"/><circle cx="1001.36" cy="1158.58" r="6.9"/><circle cx="1009.49" cy="1168.03" r="6.9"/><circle cx="1017.61" cy="1168.03" r="6.9"/><circle cx="1025.74" cy="1168.03" r="6.9"/><circle cx="1033.87" cy="1181.26" r="6.9"/><circle cx="1042" cy="1181.26" r="6.9"/><circle cx="1050.13" cy="1181.26" r="6.9"/><circle cx="1058.26" cy="1181.26" r="6.9"/><circle cx="1066.39" cy="1181.26" r="6.9"/><circle cx="1074.51" cy="1181.26" r="6.9"/><circle cx="1082.64" cy="1181.26" r="6.9"/><circle cx="1090.77" cy="1202.05" r="6.9"/><circle cx="1098.9" cy="1217.18" r="6.9"/><circle cx="1107.03" cy="1217.18" r="6.9"/><circle cx="1115.16" cy="1217.18" r="6.9"/><circle cx="1123.29" cy="1226.63" r="6.9"/><circle cx="1131.41" cy="1209.62" r="6.9"/><circle cx="1139.54" cy="1209.62" r="6.9"/><circle cx="1147.67" cy="1209.62" r="6.9"/><circle cx="1155.8" cy="1209.62" r="6.9"/><circle cx="1163.93" cy="1219.07" r="6.9"/><circle cx="1172.06" cy="1220.96" r="6.9"/><circle cx="1180.19" cy="1232.3" r="6.9"/><circle cx="1188.31" cy="1232.3" r="6.9"/><circle cx="1196.44" cy="1232.3" r="6.9"/><circle cx="1204.57" cy="1232.3" r="6.9"/><circle cx="1212.7" cy="1243.64" r="6.9"/><circle cx="1220.83" cy="1243.64" r="6.9"/><circle cx="1228.96" cy="1243.64" r="6.9"/><circle cx="1237.09" cy="1245.53" r="6.9"/><circle cx="1245.21" cy="1245.53" r="6.9"/><circle cx="1253.34" cy="1245.53" r="6.9"/><circle cx="1261.47" cy="1245.53" r="6.9"/><circle cx="1269.6" cy="1245.53" r="6.9"/><circle cx="1277.73" cy="1245.53" r="6.9"/><circle cx="1285.86" cy="1260.65" r="6.9"/><circle cx="1293.99" cy="1260.65" r="6.9"/><circle cx="1302.11" cy="1260.65" r="6.9"/><circle cx="1310.24" cy="1271.99" r="6.9"/><circle cx="1318.37" cy="1271.99" r="6.9"/><circle cx="1326.5" cy="1271.99" r="6.9"/><circle cx="1334.63" cy="1271.99" r="6.9"/><circle cx="1342.76" cy="1271.99" r="6.9"/><circle cx="1350.89" cy="1271.99" r="6.9"/><circle cx="1359.01" cy="1275.78" r="6.9"/><circle cx="1367.14" cy="1275.78" r="6.9"/><circle cx="1375.27" cy="1275.78" r="6.9"/><circle cx="1383.4" cy="1270.1" r="6.9"/><circle cx="1391.53" cy="1270.1" r="6.9"/><circle cx="1399.66" cy="1270.1" r="6.9"/><circle cx="1407.79" cy="1270.1" r="6.9"/><circle cx="1415.91" cy="1270.1" r="6.9"/><circle cx="1424.04" cy="1270.1" r="6.9"/><circle cx="1432.17" cy="1270.1" r="6.9"/><circle cx="1440.3" cy="1270.1" r="6.9"/><circle cx="1448.43" cy="1270.1" r="6.9"/><circle cx="1456.56" cy="1270.1" r="6.9"/><circle cx="1464.69" cy="1270.1" r="6.9"/><circle cx="1472.81" cy="1270.1" r="6.9"/><circle cx="1480.94" cy="1270.1" r="6.9"/><circle cx="1489.07" cy="1270.1" r="6.9"/>
<line x1="74.7" x2="1497.2" y1="1315.47" y2="1315.47" stroke="#f00000" stroke-width="2.95" stroke-dasharray="10.88 4.706"/>
</g>
<rect x="74.7" y="842.9" width="1422.5" height="661.6" fill="none" stroke="#000" stroke-width="1.575"/>
<line x1="67.8" x2="74.7" y1="1504.5" y2="1504.5" stroke="#000" stroke-width="1.575"/>
<text transform="translate(61.5,1512.4) scale(1,1.015)" font-size="20.0" text-anchor="end">0.0</text>
<line x1="67.8" x2="74.7" y1="1409.99" y2="1409.99" stroke="#000" stroke-width="1.575"/>
<text transform="translate(61.5,1417.89) scale(1,1.015)" font-size="20.0" text-anchor="end">0.5</text>
<line x1="67.8" x2="74.7" y1="1315.47" y2="1315.47" stroke="#000" stroke-width="1.575"/>
<text transform="translate(61.5,1323.37) scale(1,1.015)" font-size="20.0" text-anchor="end">1.0</text>
<line x1="67.8" x2="74.7" y1="1220.96" y2="1220.96" stroke="#000" stroke-width="1.575"/>
<text transform="translate(61.5,1228.86) scale(1,1.015)" font-size="20.0" text-anchor="end">1.5</text>
<line x1="67.8" x2="74.7" y1="1126.44" y2="1126.44" stroke="#000" stroke-width="1.575"/>
<text transform="translate(61.5,1134.34) scale(1,1.015)" font-size="20.0" text-anchor="end">2.0</text>
<line x1="67.8" x2="74.7" y1="1031.93" y2="1031.93" stroke="#000" stroke-width="1.575"/>
<text transform="translate(61.5,1039.83) scale(1,1.015)" font-size="20.0" text-anchor="end">2.5</text>
<line x1="67.8" x2="74.7" y1="937.41" y2="937.41" stroke="#000" stroke-width="1.575"/>
<text transform="translate(61.5,945.31) scale(1,1.015)" font-size="20.0" text-anchor="end">3.0</text>
<line x1="67.8" x2="74.7" y1="842.9" y2="842.9" stroke="#000" stroke-width="1.575"/>
<text transform="translate(61.5,850.8) scale(1,1.015)" font-size="20.0" text-anchor="end">3.5</text>
<line x1="155.99" x2="155.99" y1="1504.5" y2="1511.4" stroke="#000" stroke-width="1.575"/>
<text transform="translate(155.99,1533.6) scale(1,1.015)" font-size="20.0" text-anchor="middle">1.6</text>
<line x1="318.56" x2="318.56" y1="1504.5" y2="1511.4" stroke="#000" stroke-width="1.575"/>
<text transform="translate(318.56,1533.6) scale(1,1.015)" font-size="20.0" text-anchor="middle">1.8</text>
<line x1="481.13" x2="481.13" y1="1504.5" y2="1511.4" stroke="#000" stroke-width="1.575"/>
<text transform="translate(481.13,1533.6) scale(1,1.015)" font-size="20.0" text-anchor="middle">2.0</text>
<line x1="643.7" x2="643.7" y1="1504.5" y2="1511.4" stroke="#000" stroke-width="1.575"/>
<text transform="translate(643.7,1533.6) scale(1,1.015)" font-size="20.0" text-anchor="middle">2.2</text>
<line x1="806.27" x2="806.27" y1="1504.5" y2="1511.4" stroke="#000" stroke-width="1.575"/>
<text transform="translate(806.27,1533.6) scale(1,1.015)" font-size="20.0" text-anchor="middle">2.4</text>
<line x1="968.84" x2="968.84" y1="1504.5" y2="1511.4" stroke="#000" stroke-width="1.575"/>
<text transform="translate(968.84,1533.6) scale(1,1.015)" font-size="20.0" text-anchor="middle">2.6</text>
<line x1="1131.41" x2="1131.41" y1="1504.5" y2="1511.4" stroke="#000" stroke-width="1.575"/>
<text transform="translate(1131.41,1533.6) scale(1,1.015)" font-size="20.0" text-anchor="middle">2.8</text>
<line x1="1293.99" x2="1293.99" y1="1504.5" y2="1511.4" stroke="#000" stroke-width="1.575"/>
<text transform="translate(1293.99,1533.6) scale(1,1.015)" font-size="20.0" text-anchor="middle">3.0</text>
<line x1="1456.56" x2="1456.56" y1="1504.5" y2="1511.4" stroke="#000" stroke-width="1.575"/>
<text transform="translate(1456.56,1533.6) scale(1,1.015)" font-size="20.0" text-anchor="middle">3.2</text>
<text x="785.95" y="831.7" font-size="23.55" text-anchor="middle">Adjusted Hazard Ratio with 95% CI for each FIB-4 Cutoff</text>
<text transform="translate(785.95,1560.2) scale(1,1.0)" font-size="19.75" text-anchor="middle">FIB-4 Cutoff</text>
<text transform="translate(17.9,1173.2) rotate(-90) scale(1,1.0)" font-size="19.75" text-anchor="middle">Adjusted Hazard Ratio</text>
</svg></body></html>
